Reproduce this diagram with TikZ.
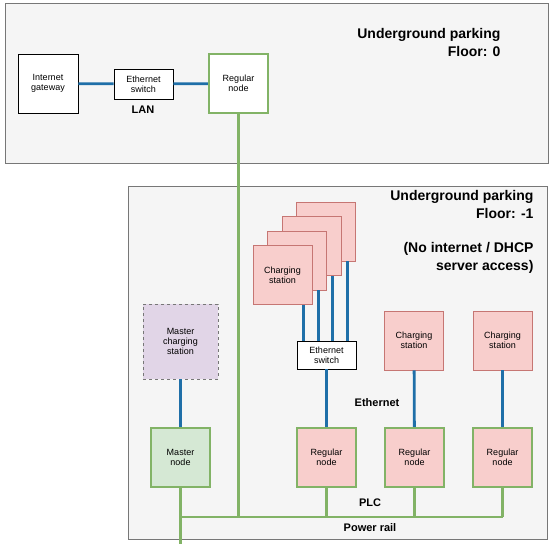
\documentclass[tikz,border=0pt]{standalone}
\usepackage{fontspec}
\setmainfont{Liberation Sans}
\usetikzlibrary{calc, positioning}
\definecolor{plgray}{HTML}{F5F5F5}
\definecolor{plframe}{HTML}{777777}
\definecolor{plred}{HTML}{F8CECC}
\definecolor{plredline}{HTML}{B85450}
\definecolor{plgreen}{HTML}{D5E8D4}
\definecolor{plgreenline}{HTML}{82B366}
\definecolor{plpurple}{HTML}{E1D5E7}
\definecolor{plblue}{HTML}{1F6FA8}

\begin{document}
\begin{tikzpicture}[x=1pt, y=-1pt,
    floorbox/.style={draw=plframe, fill=plgray, line width=1pt},
    devbox/.style={draw=black, fill=white, line width=0.8pt, align=center,
      font=\fontsize{9}{10}\selectfont, inner sep=0pt},
    nodebox/.style={devbox, draw=plgreenline, line width=2.2pt,
      minimum width=59pt, minimum height=59pt},
    stationbox/.style={devbox, draw=plredline!80, fill=plred, line width=0.6pt,
      minimum width=59pt, minimum height=59pt},
    eth/.style={draw=plblue, line width=2.8pt},
    plc/.style={draw=plgreenline, line width=2.2pt},
    title/.style={font=\fontsize{14}{18}\selectfont\bfseries, align=right, anchor=east},
    tag/.style={font=\fontsize{11}{13}\selectfont\bfseries}]
  \useasboundingbox (0,0) rectangle (551,544);

  % Floor 0
  \draw[floorbox] (5,3) rectangle (548,163);
  \node[title] (floor0) at (504,42) {Underground parking\\Floor: 0};
  \node[devbox, minimum width=60pt, minimum height=59pt] (gw) at (48,83.5) {Internet\\gateway};
  \node[devbox, minimum width=59pt, minimum height=30pt] (sw0) at (143.5,84) {Ethernet\\switch};
  \node[nodebox, fill=white] (rn0) at (238.5,83.5) {Regular\\node};
  \node[tag] (lan) at (143,110) {LAN};

  % Floor -1
  \draw[floorbox] (128,186) rectangle (547,539);
  \node[title] (floor1) at (537,204) {Underground parking\\Floor: -1};
  \node[title] (noinet) at (537,257.5) {(No internet / DHCP\\server access)};

  % stacked charging stations, back to front
  \node[stationbox] (cs4) at (326,231.5) {};
  \node[stationbox] (cs3) at (311.5,246) {};
  \node[stationbox] (cs2) at (297,260.5) {};
  \node[stationbox] (cs1) at (282.5,275) {Charging\\station};
  \node[devbox, minimum width=59pt, minimum height=28pt] (sw1) at (326.5,355) {Ethernet\\switch};
  \node[stationbox] (csa) at (414,340.5) {Charging\\station};
  \node[stationbox] (csb) at (502.5,340.5) {Charging\\station};
  \node[devbox, draw=plframe, fill=plpurple, dashed, line width=0.6pt,
    minimum width=75pt, minimum height=75pt] (mcs) at (180.5,341.5) {Master\\charging\\station};

  \node[nodebox, fill=plgreen] (mn) at (180.5,457.5) {Master\\node};
  \node[nodebox, fill=plred] (rn1) at (326.5,457.5) {Regular\\node};
  \node[nodebox, fill=plred] (rn2) at (414.5,457.5) {Regular\\node};
  \node[nodebox, fill=plred] (rn3) at (502.5,457.5) {Regular\\node};

  \node[tag] (ethlbl) at (377,403) {Ethernet};
  \node[tag] (plclbl) at (370,503) {PLC};
  \node[tag] (raillbl) at (370,528) {Power rail};

  \coordinate (rail) at (0,517);
  \coordinate (bottom) at (0,544);

  % Ethernet links
  \draw[eth] (gw) -- (sw0);
  \draw[eth] (sw0) -- (rn0);
  \foreach \i in {1,...,4}
    \draw[eth] (cs\i.south west) ++(51,0) coordinate (t\i) -- (t\i |- sw1.north);
  \draw[eth] (sw1) -- (rn1);
  \draw[eth] (csa) -- (rn2);
  \draw[eth] (csb) -- (rn3);
  \draw[eth] (mcs) -- (mn);

  % power line communication
  \draw[plc] (rn0.south) -- (rn0.south |- rail);
  \draw[plc] (mn.south) -- (mn.south |- bottom);
  \draw[plc] (mn.south |- rail) -- (rn3.south |- rail);
  \foreach \n in {rn1, rn2, rn3}
    \draw[plc] (\n.south) -- (\n.south |- rail);
\end{tikzpicture}
\end{document}
